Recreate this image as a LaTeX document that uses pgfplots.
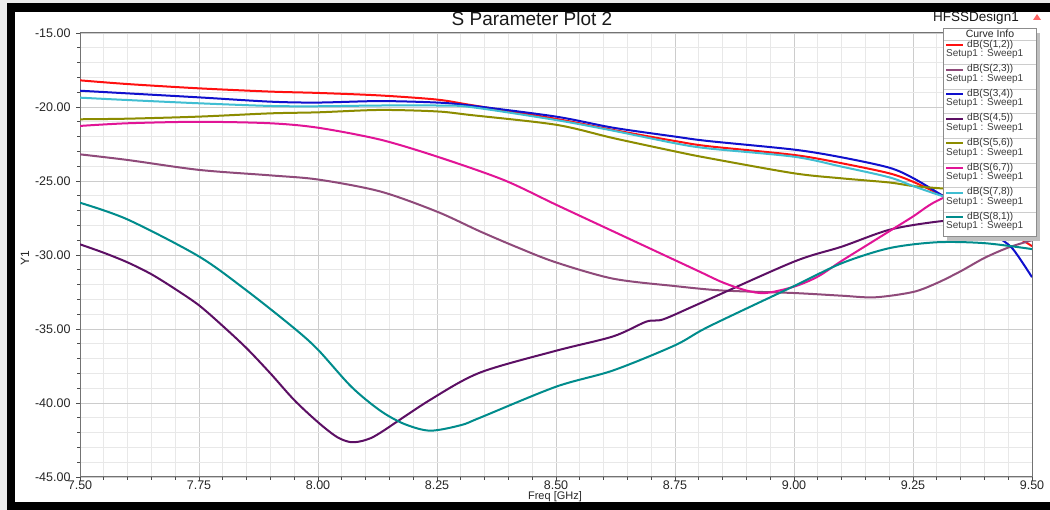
\documentclass[border=0pt]{standalone}
\usepackage{pgfplots}
\pgfplotsset{compat=1.18}
\usepackage{fontspec}
\setmainfont{Liberation Sans}
\definecolor{cS12}{RGB}{255,16,16}
\definecolor{cS23}{RGB}{143,74,122}
\definecolor{cS34}{RGB}{16,16,205}
\definecolor{cS45}{RGB}{92,15,100}
\definecolor{cS56}{RGB}{140,140,0}
\definecolor{cS67}{RGB}{225,20,150}
\definecolor{cS78}{RGB}{64,190,210}
\definecolor{cS81}{RGB}{0,140,140}
\definecolor{gmaj}{RGB}{204,204,204}
\definecolor{gmin}{RGB}{232,232,232}
\definecolor{outer}{RGB}{235,235,235}
\begin{document}
\begin{tikzpicture}[x=1pt,y=1pt]
\useasboundingbox (0,0) rectangle (1050,510);
\fill[outer] (0,0) rectangle (1050,510);
\fill[black] (7,0) rectangle (1050,507);
\fill[white] (15,8) rectangle (1050,498);
\begin{axis}[
  at={(80pt,33pt)}, anchor=south west,
  width=952pt, height=444pt, scale only axis,
  xmin=7.5, xmax=9.5, ymin=-45, ymax=-15,
  xtick distance=0.25, ytick distance=5,
  minor x tick num=4, minor y tick num=4,
  grid=both,
  major grid style={color=gmaj, line width=0.8pt},
  minor grid style={color=gmin, line width=0.8pt},
  axis line style={color=black!55, line width=1pt},
  tick align=outside, xtick pos=bottom, ytick pos=left,
  major tick length=4pt, minor tick length=3pt,
  tick style={color=black!70, line width=0.8pt},
  tick label style={font=\fontsize{12.5}{14}\selectfont, color=black!85},
  /pgf/number format/assume math mode=true,
  /pgf/number format/.cd, fixed, fixed zerofill, precision=2,
  /pgfplots/.cd,
  xticklabel style={yshift=3.5pt},
  yticklabel style={xshift=-2pt},
  every axis plot/.append style={line width=2pt, smooth},
]
% S(1,2)
\addplot[cS12] coordinates {
(7.5,-18.2) (7.6,-18.45) (7.75,-18.74) (7.9,-18.96) (8.0,-19.05) (8.13,-19.22)
(8.25,-19.5) (8.32,-19.86) (8.5,-20.8) (8.62,-21.55) (8.75,-22.3) (8.82,-22.65)
(9.0,-23.24) (9.1,-23.8) (9.2,-24.48) (9.25,-25.05) (9.31,-25.95) (9.38,-27.0)
(9.45,-28.4) (9.5,-29.4)};
% S(2,3)
\addplot[cS23] coordinates {
(7.5,-23.2) (7.6,-23.58) (7.75,-24.25) (7.9,-24.62) (8.0,-24.9) (8.13,-25.7)
(8.25,-27.07) (8.34,-28.4) (8.42,-29.5) (8.5,-30.5) (8.62,-31.6) (8.75,-32.1)
(8.85,-32.4) (9.0,-32.57) (9.1,-32.75) (9.17,-32.86) (9.25,-32.5) (9.3,-31.9)
(9.35,-31.1) (9.4,-30.2) (9.45,-29.5) (9.5,-29.0)};
% S(3,4)
\addplot[cS34] coordinates {
(7.5,-18.9) (7.6,-19.08) (7.75,-19.35) (7.9,-19.64) (8.0,-19.7) (8.13,-19.6)
(8.25,-19.7) (8.32,-19.9) (8.5,-20.65) (8.62,-21.4) (8.75,-22.0) (8.82,-22.3)
(9.0,-22.88) (9.1,-23.4) (9.2,-24.1) (9.25,-24.8) (9.31,-25.95) (9.38,-27.4)
(9.43,-28.8) (9.46,-29.6) (9.5,-31.5)};
% S(4,5)
\addplot[cS45] coordinates {
(7.5,-29.28) (7.55,-29.85) (7.6,-30.5) (7.65,-31.3) (7.7,-32.3) (7.75,-33.4)
(7.8,-34.8) (7.85,-36.3) (7.9,-38.0) (7.95,-39.8) (8.0,-41.3) (8.04,-42.3)
(8.07,-42.65) (8.1,-42.5) (8.13,-42.03) (8.235,-39.8) (8.34,-37.95) (8.5,-36.47)
(8.62,-35.5) (8.69,-34.5) (8.725,-34.35) (8.8,-33.3) (9.0,-30.45) (9.1,-29.44)
(9.2,-28.3) (9.3,-27.75) (9.4,-27.5) (9.5,-27.5)};
% S(5,6)
\addplot[cS56] coordinates {
(7.5,-20.83) (7.6,-20.79) (7.75,-20.65) (7.9,-20.43) (8.0,-20.36) (8.13,-20.2)
(8.25,-20.3) (8.32,-20.54) (8.5,-21.2) (8.62,-22.1) (8.75,-23.0) (8.82,-23.45)
(9.0,-24.48) (9.1,-24.82) (9.2,-25.1) (9.25,-25.34) (9.31,-25.5) (9.4,-25.7)
(9.5,-25.9)};
% S(6,7)
\addplot[cS67] coordinates {
(7.5,-21.28) (7.6,-21.1) (7.75,-21.0) (7.9,-21.1) (8.0,-21.4) (8.13,-22.2)
(8.25,-23.35) (8.39,-24.93) (8.5,-26.6) (8.62,-28.4) (8.72,-29.9) (8.8,-31.1)
(8.85,-31.85) (8.9,-32.4) (8.94,-32.57) (9.0,-32.14) (9.05,-31.46) (9.1,-30.4)
(9.15,-29.4) (9.2,-28.4) (9.25,-27.4) (9.3,-26.35) (9.4,-25.0) (9.5,-24.2)};
% S(7,8)
\addplot[cS78] coordinates {
(7.5,-19.37) (7.6,-19.53) (7.75,-19.75) (7.9,-19.93) (8.0,-19.95) (8.13,-19.9)
(8.25,-19.9) (8.32,-20.0) (8.5,-20.88) (8.62,-21.6) (8.75,-22.45) (8.82,-22.8)
(9.0,-23.36) (9.1,-24.03) (9.2,-24.75) (9.25,-25.34) (9.31,-26.0) (9.4,-26.9)
(9.5,-27.8)};
% S(8,1)
\addplot[cS81] coordinates {
(7.5,-26.47) (7.6,-27.6) (7.75,-30.1) (7.85,-32.4) (7.95,-34.95) (8.0,-36.4)
(8.07,-38.9) (8.13,-40.5) (8.18,-41.4) (8.235,-41.87) (8.3,-41.5) (8.34,-41.0)
(8.5,-38.9) (8.62,-37.8) (8.75,-36.1) (8.82,-34.85) (9.0,-32.1) (9.1,-30.56)
(9.2,-29.54) (9.3,-29.14) (9.4,-29.2) (9.5,-29.6)};
\end{axis}
% titles
\node[font=\fontsize{19}{22}\selectfont, text=black!90] at (532,491) {S Parameter Plot 2};
\node[font=\fontsize{13.5}{16}\selectfont, text=black!90] at (976,492) {HFSSDesign1};
\fill[red!60] (1033,490) -- (1041,490) -- (1037,496) -- cycle;
\node[font=\fontsize{11}{13}\selectfont, text=black!85, inner sep=0pt] at (555,13.3) {Freq [GHz]};
\node[font=\fontsize{12}{14}\selectfont, text=black!85, rotate=90] at (25,252) {Y1};
% legend
\fill[black!25] (947,269) rectangle (1040,477);
\fill[white] (943,273) rectangle (1036,481);
\node[font=\fontsize{10.5}{13}\selectfont, text=black!85] at (990,476) {Curve Info};
\foreach \c [count=\i from 0] in {cS12,cS23,cS34,cS45,cS56,cS67,cS78,cS81}{
  \pgfmathsetmacro{\sep}{510-40-24.6*\i}
  \draw[black!20, line width=0.8pt] (943,\sep) -- (1036,\sep);
  \draw[\c, line width=2pt] (946,\sep-5) -- (963,\sep-5);
}
\foreach \lab [count=\i from 0] in {1{,}2,2{,}3,3{,}4,4{,}5,5{,}6,6{,}7,7{,}8,8{,}1}{
  \pgfmathsetmacro{\sep}{510-40-24.6*\i}
  \node[font=\fontsize{10}{12}\selectfont, text=black!80, anchor=west, inner sep=0pt] at (967,\sep-4.6) {dB(S(\lab))};
  \node[font=\fontsize{10}{12}\selectfont, text=black!75, anchor=west, inner sep=0pt] at (946,\sep-14.3) {Setup1 : Sweep1};
}
\draw[black!45, line width=1pt] (943,273) rectangle (1036,481);
\end{tikzpicture}
\end{document}
